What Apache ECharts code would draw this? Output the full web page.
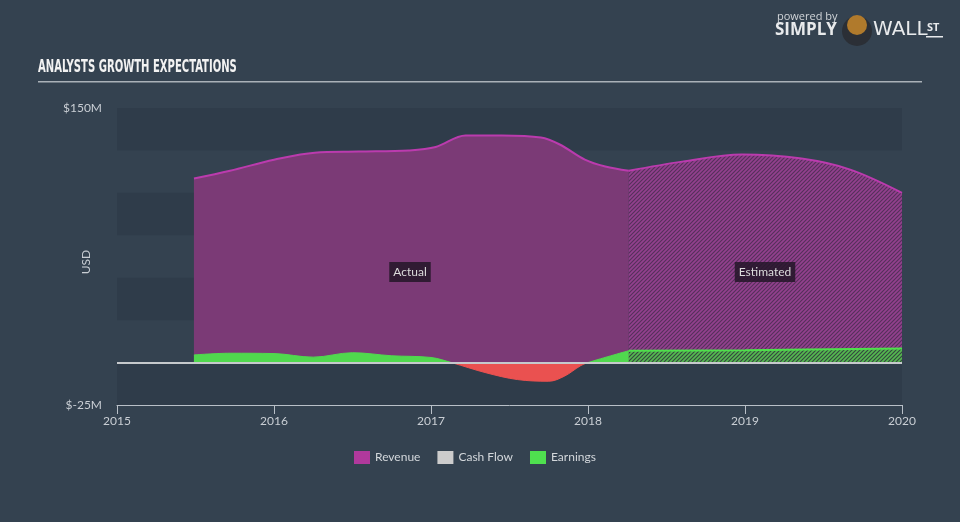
<!DOCTYPE html>
<html>
<head>
<meta charset="utf-8">
<script src="https://cdn.jsdelivr.net/npm/echarts@6/dist/echarts.min.js"></script>
<style>
html,body{margin:0;padding:0;background:#344250;}
#c{width:960px;height:522px;}
</style>
</head>
<body>
<div id="c"></div>
<script>
// ---- data ----
const yearTicks = [2015, 2016, 2017, 2018, 2019, 2020];
const revenueActualX = [2015.49, 2015.72, 2016.0, 2016.26, 2016.54, 2016.86, 2017.03, 2017.22, 2017.45, 2017.7, 2017.82, 2017.98, 2018.11, 2018.26];
const revenueActualY = [108.4, 113, 119.5, 123.7, 124.3, 125, 127, 133.8, 133.8, 132.6, 128.5, 119.6, 115.5, 113];
const revenueEstX = [2018.26, 2018.6, 2018.98, 2019.36, 2019.67, 2020.0];
const revenueEstY = [113, 118.4, 122.6, 120.2, 113.7, 100];
const earningsActualX = [2015.49, 2015.72, 2016.0, 2016.25, 2016.5, 2016.75, 2017.0, 2017.13, 2017.35, 2017.55, 2017.75, 2017.85, 2017.95, 2018.0, 2018.26];
const earningsActualY = [4.5, 5.5, 5.3, 3.2, 5.8, 4.0, 3.0, 0, -6, -10, -11, -8, -2, 0, 7];
const earningsEstX = [2018.26, 2019.0, 2020.0];
const earningsEstY = [7, 7.3, 8.3];
const cashFlowX = [];
const cashFlowY = [];
const yMin = -25, yMax = 150, yStep = 25;

function pairs(xs, ys) { return xs.map((x, i) => [x, ys[i]]); }

function hatch(base, stripe) {
  const n = 4;
  const c = document.createElement('canvas');
  c.width = n; c.height = n;
  const g = c.getContext('2d');
  g.fillStyle = base; g.fillRect(0, 0, n, n);
  g.strokeStyle = stripe; g.lineWidth = 1.7;
  g.beginPath();
  g.moveTo(-1, n + 1); g.lineTo(n + 1, -1);
  g.moveTo(-1, 1); g.lineTo(1, -1);
  g.moveTo(n - 1, n + 1); g.lineTo(n + 1, n - 1);
  g.stroke();
  return { image: c, repeat: 'repeat' };
}

const W = 960, H = 522;
const gridTop = 108, gridBottom = 117, gridLeft = 117, gridRight = 58;
// fraction of canvas height where value 0 sits (for the green/red split)
const zeroFrac = (gridTop + (yMax / (yMax - yMin)) * (H - gridTop - gridBottom)) / H;
const posNeg = {
  type: 'linear', x: 0, y: 0, x2: 0, y2: H, global: true,
  colorStops: [
    { offset: 0, color: '#50d84e' }, { offset: zeroFrac, color: '#50d84e' },
    { offset: zeroFrac, color: '#ea5150' }, { offset: 1, color: '#ea5150' }
  ]
};

const chart = echarts.init(document.getElementById('c'), null, { renderer: 'canvas' });
const axisText = '#c9ced4';
const uiFont = 'Lato, "Open Sans", sans-serif';

chart.setOption({
  animation: false,
  backgroundColor: '#344250',
  grid: { left: gridLeft, right: gridRight, top: gridTop, bottom: gridBottom },
  legend: {
    left: 349, top: 446,
    icon: 'rect', itemWidth: 16, itemHeight: 13, itemGap: 17,
    textStyle: { color: '#d3d7db', fontSize: 12, fontFamily: uiFont },
    data: [
      { name: 'Revenue', itemStyle: { color: '#b0399c' } },
      { name: 'Cash Flow', itemStyle: { color: '#cccccc' } },
      { name: 'Earnings', itemStyle: { color: '#4fe04f' } }
    ],
    selectedMode: false
  },
  xAxis: {
    type: 'value', min: yearTicks[0], max: yearTicks[yearTicks.length - 1], interval: 1,
    axisLine: { onZero: false, lineStyle: { color: '#b9c0c8', width: 1 } },
    axisTick: { show: true, length: 9, lineStyle: { color: '#b9c0c8' } },
    axisLabel: { color: axisText, fontSize: 12, margin: 10, fontFamily: uiFont, formatter: v => String(Math.round(v)) },
    splitLine: { show: false }
  },
  yAxis: {
    type: 'value', min: yMin, max: yMax, interval: yStep,
    axisLine: { show: false }, axisTick: { show: false },
    axisLabel: {
      color: axisText, fontSize: 12, margin: 15, fontFamily: uiFont,
      formatter: v => (v === yMax ? '$' + yMax + 'M' : (v === yMin ? '$' + yMin + 'M' : ''))
    },
    splitLine: { show: false },
    splitArea: { show: true, areaStyle: { color: ['#2f3c4a', 'rgba(0,0,0,0)'] } }
  },
  series: [
    {
      name: 'Revenue', type: 'line', smooth: 0.35, symbol: 'none', z: 2,
      data: pairs(revenueActualX, revenueActualY),
      lineStyle: { color: '#bb3bae', width: 2 },
      itemStyle: { color: '#b0399c' },
      areaStyle: { color: '#7b3a76', opacity: 1 }
    },
    {
      name: 'Revenue', type: 'line', smooth: 0.35, symbol: 'none', z: 2,
      data: pairs(revenueEstX, revenueEstY),
      lineStyle: { color: '#bb3bae', width: 2 },
      itemStyle: { color: '#b0399c' },
      areaStyle: { color: hatch('#55305b', '#93408e'), opacity: 1 }
    },
    {
      name: 'Earnings', type: 'line', smooth: 0.35, symbol: 'none', z: 3,
      data: pairs(earningsActualX, earningsActualY),
      itemStyle: { color: '#4fe04f' },
      lineStyle: { color: posNeg, width: 1 },
      areaStyle: { color: posNeg, opacity: 1 }
    },
    {
      name: 'Earnings', type: 'line', smooth: 0.35, symbol: 'none', z: 3,
      data: pairs(earningsEstX, earningsEstY),
      lineStyle: { color: '#4fe04c', width: 2 },
      itemStyle: { color: '#4fe04f' },
      areaStyle: { color: hatch('#34473f', '#55b950'), opacity: 1 }
    },
    {
      name: 'Cash Flow', type: 'line', symbol: 'none', z: 4,
      data: pairs(cashFlowX, cashFlowY),
      itemStyle: { color: '#cccccc' },
      markLine: {
        silent: true, symbol: 'none', label: { show: false },
        lineStyle: { color: '#c6c9cc', width: 2, type: 'solid' },
        data: [{ yAxis: 0 }]
      }
    }
  ],
  graphic: [
    {
      type: 'text', left: 38, top: 58,
      style: { text: 'ANALYSTS GROWTH EXPECTATIONS', fill: '#f2f2f2', font: 'bold 18px "DejaVu Sans Condensed", sans-serif' },
      scaleX: 0.62
    },
    {
      type: 'rect', shape: { x: 38, y: 81, width: 884, height: 1.5 },
      style: { fill: '#aab1b8' }
    },
    {
      type: 'text', x: 86, y: 262, rotation: Math.PI / 2,
      style: { text: 'USD', fill: axisText, font: '12px ' + uiFont, align: 'center', verticalAlign: 'middle' }
    },
    {
      type: 'text', left: 777, top: 11,
      style: { text: 'powered by', fill: '#d0d4d8', font: '11px "Open Sans", sans-serif' }
    },
    {
      type: 'text', left: 775, top: 22,
      style: { text: 'SIMPLY', fill: '#e8eaec', font: 'bold 17px "Open Sans", sans-serif' }
    },
    {
      type: 'circle', shape: { cx: 857, cy: 31, r: 15 },
      style: { fill: '#2b2f36' }
    },
    {
      type: 'circle', shape: { cx: 857, cy: 25, r: 10 },
      style: { fill: '#b07a2c' }
    },
    {
      type: 'text', left: 873, top: 21,
      style: { text: 'WALL', fill: '#e8eaec', font: '19px "DejaVu Sans", sans-serif' },
      scaleX: 1.05
    },
    {
      type: 'text', left: 927, top: 22,
      style: { text: 'ST', fill: '#e8eaec', font: 'bold 11px "Open Sans", sans-serif' }
    },
    {
      type: 'rect', shape: { x: 926, y: 36, width: 17, height: 1.5 },
      style: { fill: '#e8eaec' }
    },
    {
      type: 'text', x: 410, y: 272, z: 10,
      style: {
        text: 'Actual', fill: '#dcdcdc', font: '12px ' + uiFont,
        align: 'center', verticalAlign: 'middle',
        backgroundColor: 'rgba(35,22,40,0.85)', padding: [4, 4]
      }
    },
    {
      type: 'text', x: 765, y: 272, z: 10,
      style: {
        text: 'Estimated', fill: '#dcdcdc', font: '12px ' + uiFont,
        align: 'center', verticalAlign: 'middle',
        backgroundColor: 'rgba(35,22,40,0.85)', padding: [4, 4]
      }
    }
  ]
});
</script>
</body>
</html>
